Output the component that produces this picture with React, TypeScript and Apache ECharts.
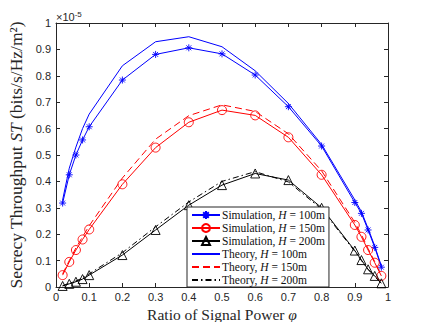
import React, { useEffect, useRef } from "react";
import * as echarts from "echarts";

const phi = [0.02, 0.04, 0.06, 0.08, 0.1, 0.2, 0.3, 0.4, 0.5, 0.6, 0.7, 0.8, 0.9, 0.92, 0.94, 0.96, 0.98];
const sim100 = [0.318, 0.425, 0.5, 0.557, 0.607, 0.784, 0.881, 0.906, 0.883, 0.803, 0.683, 0.534, 0.32, 0.279, 0.216, 0.15, 0.075];
const sim150 = [0.045, 0.095, 0.14, 0.18, 0.218, 0.389, 0.528, 0.624, 0.67, 0.65, 0.567, 0.425, 0.235, 0.19, 0.14, 0.092, 0.042];
const sim200 = [0.004, 0.012, 0.02, 0.03, 0.045, 0.121, 0.216, 0.31, 0.386, 0.43, 0.405, 0.3, 0.138, 0.102, 0.067, 0.042, 0.014];
const th100 = [0.33, 0.45, 0.53, 0.6, 0.655, 0.838, 0.929, 0.948, 0.91, 0.819, 0.695, 0.54, 0.33, 0.285, 0.222, 0.155, 0.08];
const th150 = [0.05, 0.1, 0.148, 0.19, 0.232, 0.413, 0.56, 0.649, 0.69, 0.665, 0.58, 0.44, 0.245, 0.198, 0.146, 0.096, 0.045];
const th200 = [0.005, 0.014, 0.023, 0.034, 0.05, 0.13, 0.228, 0.322, 0.4, 0.437, 0.398, 0.295, 0.135, 0.1, 0.066, 0.04, 0.013];
const xTicks = [0, 0.1, 0.2, 0.3, 0.4, 0.5, 0.6, 0.7, 0.8, 0.9, 1];
const yTicks = [0, 0.1, 0.2, 0.3, 0.4, 0.5, 0.6, 0.7, 0.8, 0.9, 1];
const names = [
  "Simulation, H = 100m",
  "Simulation, H = 150m",
  "Simulation, H = 200m",
  "Theory, H = 100m",
  "Theory, H = 150m",
  "Theory, H = 200m",
];

const pair = (ys: number[]) => phi.map((x, i) => [x, ys[i]]);
const ASTERISK = "path://M0,-5L0,5M-5,0L5,0M-3.5,-3.5L3.5,3.5M-3.5,3.5L3.5,-3.5";
const SERIF = "Liberation Serif";
const SANS = "Liberation Sans";
const AX = "#262626";

export default function App() {
  const ref = useRef<HTMLDivElement>(null);
  useEffect(() => {
    if (!ref.current) return;
    const chart = echarts.init(ref.current, undefined, { renderer: "svg" });
    const axisCommon = {
      type: "value" as const,
      min: 0,
      max: 1,
      interval: 0.1,
      axisLine: { show: true, onZero: false, lineStyle: { color: AX, width: 1 } },
      axisTick: { show: true, inside: true, length: 4, lineStyle: { color: AX } },
      splitLine: { show: false },
    };
    const labelStyle = { color: AX, fontFamily: SANS, fontSize: 11 };
    const sim = (name: string, ys: number[], color: string, symbol: string, size: number) => ({
      name,
      type: "line",
      data: pair(ys),
      symbol,
      symbolSize: size,
      showAllSymbol: true,
      lineStyle: { color, width: 1 },
      itemStyle: {
        color: symbol === ASTERISK ? color : "rgba(255,255,255,0)",
        borderColor: color,
        borderWidth: 0.9,
      },
    });
    const th = (name: string, ys: number[], color: string, type: any) => ({
      name,
      type: "line",
      data: pair(ys),
      symbol: "none",
      lineStyle: { color, width: 1, type },
      itemStyle: { color },
    });
    const richName = (size: number) => ({
      fontFamily: SERIF,
      fontSize: size,
      color: AX,
      rich: { i: { fontFamily: SERIF, fontStyle: "italic", fontSize: size, color: AX } },
    });
    chart.setOption({
      animation: false,
      grid: { left: 56, right: 41, top: 23, bottom: 35, containLabel: false, outerBoundsMode: "none" },
      xAxis: [
        {
          ...axisCommon,
          position: "bottom",
          axisLabel: {
            ...labelStyle,
            margin: 4,
            formatter: (v: number) => {
              const t = xTicks.find((k) => Math.abs(k - v) < 1e-9);
              return t === undefined ? "" : String(t);
            },
          },
          name: "Ratio of Signal Power {i|φ}",
          nameLocation: "middle",
          nameGap: 17,
          nameTextStyle: richName(15.5),
        },
        { ...axisCommon, position: "top", axisLabel: { show: false } },
      ],
      yAxis: [
        {
          ...axisCommon,
          position: "left",
          axisLabel: {
            ...labelStyle,
            margin: 5,
            formatter: (v: number) => {
              const t = yTicks.find((k) => Math.abs(k - v) < 1e-9);
              return t === undefined ? "" : String(t);
            },
          },
          name: "Secrecy Throughput {i|ST} (bits/s/Hz/m²)",
          nameLocation: "middle",
          nameGap: 23,
          nameRotate: 90,
          nameTextStyle: richName(17.5),
        },
        { ...axisCommon, position: "right", axisLabel: { show: false } },
      ],
      legend: {
        orient: "vertical",
        left: 187,
        top: 207,
        data: [
          { name: names[0] },
          { name: names[1] },
          { name: names[2] },
          { name: names[3], itemStyle: { opacity: 0 } },
          { name: names[4], itemStyle: { opacity: 0 } },
          { name: names[5], itemStyle: { opacity: 0 } },
        ],
        itemWidth: 28,
        itemHeight: 10,
        itemGap: 1,
        padding: [2, 4, 1, 4],
        backgroundColor: "#fff",
        borderColor: AX,
        borderWidth: 1,
        borderRadius: 0,
        formatter: (n: string) => n.replace("H =", "{i|H} ="),
        textStyle: {
          fontFamily: SERIF,
          fontSize: 11.5,
          lineHeight: 12,
          color: "#111",
          padding: [0, 0, 0, -3],
          rich: { i: { fontFamily: SERIF, fontStyle: "italic", fontSize: 11.5, lineHeight: 12, color: "#111" } },
        },
      },
      graphic: [
        {
          type: "text",
          left: 56,
          top: 10,
          style: {
            text: "×10{s|-5}",
            fontFamily: SANS,
            fontSize: 11,
            fill: AX,
            rich: { s: { fontSize: 8, fontFamily: SANS, fill: AX, verticalAlign: "top", padding: [0, 0, 6, 0] } },
          },
        },
      ],
      series: [
        sim(names[0], sim100, "#0000ff", ASTERISK, 7),
        sim(names[1], sim150, "#ff0000", "circle", 9),
        sim(names[2], sim200, "#000000", "triangle", 9),
        th(names[3], th100, "#0000ff", "solid"),
        th(names[4], th150, "#ff0000", [7, 4]),
        th(names[5], th200, "#000000", [6, 3, 1.5, 3]),
      ],
    });
    return () => chart.dispose();
  }, []);
  return (
    <div
      ref={ref}
      style={{ position: "fixed", left: 0, top: 0, width: 429, height: 322, background: "#fff" }}
    />
  );
}
